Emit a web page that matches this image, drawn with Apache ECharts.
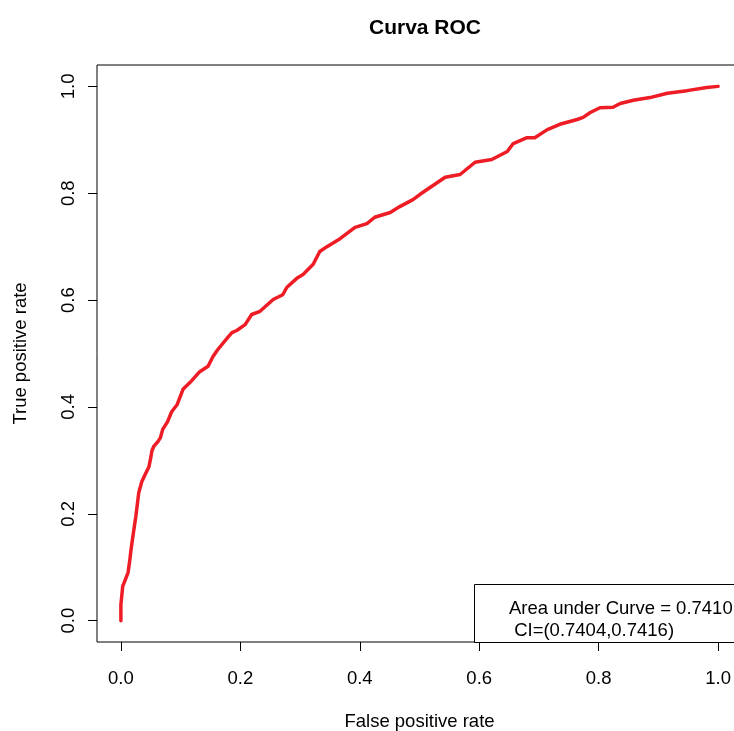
<!DOCTYPE html>
<html>
<head>
<meta charset="utf-8">
<script src="https://cdn.jsdelivr.net/npm/echarts@6/dist/echarts.min.js"></script>
<style>
html,body{margin:0;padding:0;background:#fff;}
#chart{width:734px;height:731px;}
</style>
</head>
<body>
<div id="chart"></div>
<script>
// ROC curve points
const fpr = [0, 0.000, 0.002, 0.003, 0.012, 0.015, 0.017, 0.020, 0.025, 0.030, 0.035, 0.040, 0.047, 0.050, 0.052, 0.055, 0.062, 0.066, 0.070, 0.078, 0.085, 0.094, 0.104, 0.116, 0.132, 0.146, 0.154, 0.162, 0.179, 0.186, 0.194, 0.208, 0.219, 0.233, 0.255, 0.271, 0.278, 0.296, 0.305, 0.322, 0.333, 0.345, 0.367, 0.392, 0.412, 0.425, 0.451, 0.467, 0.489, 0.501, 0.543, 0.568, 0.593, 0.621, 0.647, 0.657, 0.680, 0.693, 0.714, 0.735, 0.764, 0.774, 0.786, 0.802, 0.824, 0.836, 0.858, 0.886, 0.915, 0.948, 0.981, 1.0];
const tpr = [0, 0.030, 0.052, 0.064, 0.090, 0.114, 0.133, 0.157, 0.195, 0.240, 0.260, 0.272, 0.288, 0.305, 0.318, 0.326, 0.335, 0.342, 0.358, 0.372, 0.391, 0.404, 0.433, 0.446, 0.466, 0.476, 0.494, 0.507, 0.530, 0.539, 0.543, 0.554, 0.573, 0.579, 0.601, 0.610, 0.624, 0.642, 0.648, 0.667, 0.691, 0.700, 0.715, 0.736, 0.743, 0.755, 0.764, 0.775, 0.788, 0.798, 0.830, 0.835, 0.858, 0.863, 0.878, 0.893, 0.904, 0.904, 0.919, 0.929, 0.938, 0.942, 0.951, 0.960, 0.961, 0.968, 0.974, 0.979, 0.987, 0.992, 0.998, 1.0];
const tickValues = [0, 0.2, 0.4, 0.6, 0.8, 1.0];
const titleText = 'Curva ROC';
const xName = 'False positive rate';
const yName = 'True positive rate';
const legendLines = ['Area under Curve = 0.7410', ' CI=(0.7404,0.7416)'];

const FONT = '"Liberation Sans", Arial, Helvetica, sans-serif';
const points = fpr.map((x, i) => [x, tpr[i]]);

const chart = echarts.init(document.getElementById('chart'), null, {renderer: 'canvas'});
const axisCommon = {
  type: 'value',
  min: -0.04,
  max: 1.04,
  splitLine: {show: false},
  axisLine: {show: false, onZero: false},
  axisTick: {show: true, inside: false, length: 9, customValues: tickValues, lineStyle: {color: '#000', width: 1}},
  nameLocation: 'middle',
  nameTextStyle: {fontFamily: FONT, fontSize: 18.5, color: '#000', verticalAlign: 'middle'}
};
chart.setOption({
  animation: false,
  backgroundColor: '#fff',
  title: {
    text: titleText,
    left: 420,
    top: 13,
    textAlign: 'center',
    textStyle: {fontFamily: FONT, fontSize: 21, fontWeight: 'bold', color: '#000'}
  },
  grid: {
    left: 97, top: 65, width: 645, height: 577,
    show: true, borderColor: '#000', borderWidth: 1, backgroundColor: 'transparent',
    containLabel: false, outerBoundsMode: 'none'
  },
  xAxis: Object.assign({}, axisCommon, {
    name: xName,
    nameGap: 80,
    axisLabel: {customValues: tickValues, formatter: v => v.toFixed(1), margin: 37, verticalAlign: 'middle',
      fontFamily: FONT, fontSize: 18.5, color: '#000'}
  }),
  yAxis: Object.assign({}, axisCommon, {
    name: yName,
    nameGap: 76,
    nameRotate: 90,
    axisLabel: {customValues: tickValues, formatter: v => v.toFixed(1), rotate: 90, margin: 28,
      align: 'center', verticalAlign: 'middle', fontFamily: FONT, fontSize: 18.5, color: '#000'}
  }),
  series: [{
    type: 'line',
    data: points,
    showSymbol: false,
    symbol: 'none',
    lineStyle: {color: '#ee1c24', width: 3.5, cap: 'round', join: 'round'},
    clip: true
  }],
  graphic: [
    {type: 'rect', shape: {x: 474.5, y: 584.5, width: 268, height: 58}, style: {fill: '#fff', stroke: '#000', lineWidth: 1}, z: 10},
    {type: 'text', x: 509, y: 609, style: {text: legendLines[0], font: '18.5px ' + FONT, fill: '#000', verticalAlign: 'middle'}, z: 11},
    {type: 'text', x: 509, y: 631, style: {text: legendLines[1], font: '18.5px ' + FONT, fill: '#000', verticalAlign: 'middle'}, z: 11}
  ]
});
</script>
</body>
</html>
